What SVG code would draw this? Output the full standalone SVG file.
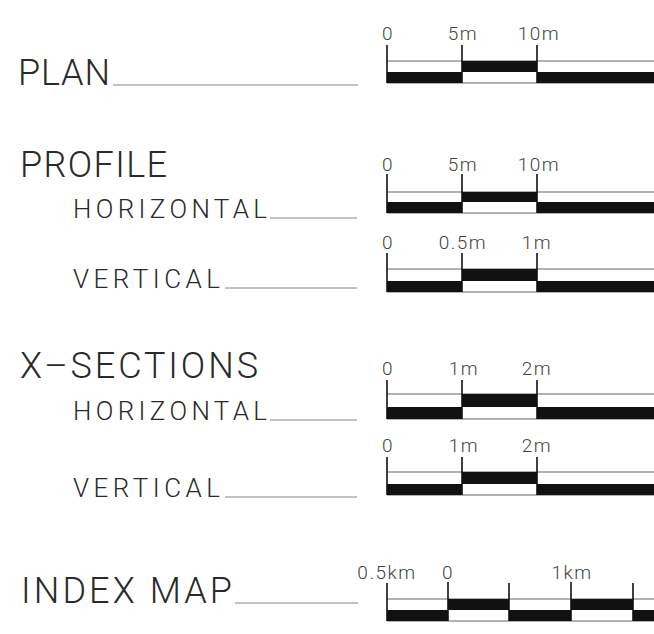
<svg xmlns="http://www.w3.org/2000/svg" width="654" height="634" viewBox="0 0 654 634">
<style>
text{font-family:Roboto,"Liberation Sans","DejaVu Sans",sans-serif;font-weight:300;fill:#2a2a2a}
.big{font-size:36px}
.sub{font-size:26px}
.num{font-size:19px;text-anchor:middle;letter-spacing:1.5px;fill:#444}
.tick{stroke:#111;stroke-width:1.6}
.ln{stroke:#555;stroke-width:0.9}
.ul{stroke:#666;stroke-width:0.8}
.blk{fill:#111}
</style>
<rect width="654" height="634" fill="#fff"/>
<g id="labels">
<g id="plan-label"><text class="big" x="18" y="85" textLength="92" lengthAdjust="spacing">PLAN</text><line class="ul" x1="113" y1="85" x2="358" y2="85"/></g>
<g id="profile-label"><text class="big" x="20" y="177" textLength="147" lengthAdjust="spacing">PROFILE</text></g>
<g id="profile-h-label"><text class="sub" x="73" y="218" textLength="194" lengthAdjust="spacing">HORIZONTAL</text><line class="ul" x1="270" y1="218" x2="357" y2="218"/></g>
<g id="profile-v-label"><text class="sub" x="73" y="288" textLength="147" lengthAdjust="spacing">VERTICAL</text><line class="ul" x1="225" y1="288" x2="357" y2="288"/></g>
<g id="xsec-label"><text class="big" x="20" y="378" textLength="238" lengthAdjust="spacing">X–SECTIONS</text></g>
<g id="xsec-h-label"><text class="sub" x="73" y="420" textLength="194" lengthAdjust="spacing">HORIZONTAL</text><line class="ul" x1="270" y1="420" x2="357" y2="420"/></g>
<g id="xsec-v-label"><text class="sub" x="73" y="497" textLength="147" lengthAdjust="spacing">VERTICAL</text><line class="ul" x1="225" y1="497" x2="357" y2="497"/></g>
<g id="index-label"><text class="big" x="21" y="603" textLength="211" lengthAdjust="spacing">INDEX MAP</text><line class="ul" x1="235" y1="603" x2="358" y2="603"/></g>
</g>
<g id="scale-plan">
<line class="ln" x1="387" y1="61" x2="654" y2="61"/><line class="ln" x1="387" y1="83" x2="654" y2="83"/>
<rect class="blk" x="387" y="72" width="75" height="11"/><rect class="blk" x="462" y="61" width="75" height="11"/><rect class="blk" x="537" y="72" width="117" height="11"/>
<line class="tick" x1="387" y1="45" x2="387" y2="83"/><line class="tick" x1="462" y1="45" x2="462" y2="83"/><line class="tick" x1="537" y1="45" x2="537" y2="83"/>
<text class="num" x="388" y="40">0</text><text class="num" x="463" y="40">5m</text><text class="num" x="539" y="40">10m</text>
</g>
<g id="scale-profile-h">
<line class="ln" x1="387" y1="192" x2="654" y2="192"/><line class="ln" x1="387" y1="213" x2="654" y2="213"/>
<rect class="blk" x="387" y="202" width="75" height="11"/><rect class="blk" x="462" y="192" width="75" height="10"/><rect class="blk" x="537" y="202" width="117" height="11"/>
<line class="tick" x1="387" y1="174" x2="387" y2="213"/><line class="tick" x1="462" y1="174" x2="462" y2="213"/><line class="tick" x1="537" y1="174" x2="537" y2="213"/>
<text class="num" x="388" y="171">0</text><text class="num" x="463" y="171">5m</text><text class="num" x="539" y="171">10m</text>
</g>
<g id="scale-profile-v">
<line class="ln" x1="387" y1="269" x2="654" y2="269"/><line class="ln" x1="387" y1="292" x2="654" y2="292"/>
<rect class="blk" x="387" y="281" width="75" height="11"/><rect class="blk" x="462" y="269" width="75" height="12"/><rect class="blk" x="537" y="281" width="117" height="11"/>
<line class="tick" x1="387" y1="253" x2="387" y2="292"/><line class="tick" x1="462" y1="253" x2="462" y2="292"/><line class="tick" x1="537" y1="253" x2="537" y2="292"/>
<text class="num" x="388" y="249">0</text><text class="num" x="463" y="249">0.5m</text><text class="num" x="537" y="249">1m</text>
</g>
<g id="scale-xsec-h">
<line class="ln" x1="387" y1="394" x2="654" y2="394"/><line class="ln" x1="387" y1="419" x2="654" y2="419"/>
<rect class="blk" x="387" y="407" width="75" height="12"/><rect class="blk" x="462" y="394" width="75" height="13"/><rect class="blk" x="537" y="407" width="117" height="12"/>
<line class="tick" x1="387" y1="380" x2="387" y2="419"/><line class="tick" x1="462" y1="380" x2="462" y2="419"/><line class="tick" x1="537" y1="380" x2="537" y2="419"/>
<text class="num" x="388" y="375">0</text><text class="num" x="464" y="375">1m</text><text class="num" x="537" y="375">2m</text>
</g>
<g id="scale-xsec-v">
<line class="ln" x1="387" y1="472" x2="654" y2="472"/><line class="ln" x1="387" y1="495" x2="654" y2="495"/>
<rect class="blk" x="387" y="484" width="75" height="11"/><rect class="blk" x="462" y="472" width="75" height="12"/><rect class="blk" x="537" y="484" width="117" height="11"/>
<line class="tick" x1="387" y1="457" x2="387" y2="495"/><line class="tick" x1="462" y1="457" x2="462" y2="495"/><line class="tick" x1="537" y1="457" x2="537" y2="495"/>
<text class="num" x="388" y="452">0</text><text class="num" x="464" y="452">1m</text><text class="num" x="537" y="452">2m</text>
</g>
<g id="scale-index">
<line class="ln" x1="387" y1="599" x2="654" y2="599"/><line class="ln" x1="387" y1="621" x2="654" y2="621"/>
<rect class="blk" x="387" y="610" width="61" height="11"/><rect class="blk" x="448" y="599" width="61" height="11"/><rect class="blk" x="509" y="610" width="62" height="11"/><rect class="blk" x="571" y="599" width="62" height="11"/><rect class="blk" x="633" y="610" width="21" height="11"/>
<line class="tick" x1="387" y1="583" x2="387" y2="621"/><line class="tick" x1="448" y1="582" x2="448" y2="621"/><line class="tick" x1="509" y1="583" x2="509" y2="621"/><line class="tick" x1="571" y1="582" x2="571" y2="621"/><line class="tick" x1="633" y1="583" x2="633" y2="621"/>
<text class="num" x="387" y="579">0.5km</text><text class="num" x="448" y="579">0</text><text class="num" x="572" y="579">1km</text>
</g>
</svg>
